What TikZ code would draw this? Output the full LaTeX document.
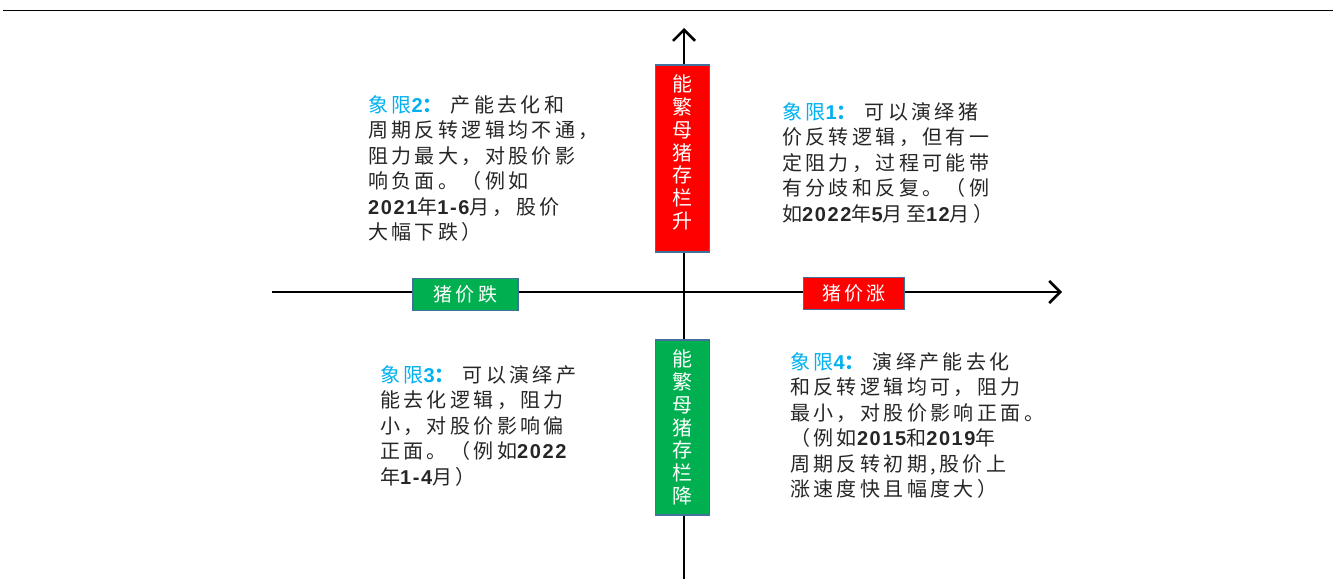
\documentclass[tikz,border=0pt]{standalone}
\usepackage{fontspec}
\setmainfont{Noto Sans CJK SC}
\newfontfamily\cjk[LetterSpace=17]{Noto Sans CJK SC}
\newfontfamily\latb[LetterSpace=8]{Liberation Sans}
\usetikzlibrary{arrows.meta}
\definecolor{qblue}{HTML}{00B0F0}
\definecolor{qred}{HTML}{FF0000}
\definecolor{qgreen}{HTML}{00B050}
\definecolor{qedge}{HTML}{41719C}
\definecolor{qtxt}{HTML}{262626}
\newcommand\dg[1]{{\latb\bfseries #1}}
\newcommand\ql[1]{\textcolor{qblue}{象限\dg{#1}{\bfseries ：}}\hspace{8pt}}
\tikzset{
  axis/.style={line width=2.6pt, -{Straight Barb[length=11pt,width=22pt]}},
  qtext/.style={anchor=north west, inner sep=0pt, align=left, text=qtxt,
    font={\cjk\fontsize{20}{25.5}\selectfont}},
  vbox/.style={draw=qedge, line width=1.3pt, minimum width=54pt, inner sep=0pt},
  hbox/.style={draw=qedge, line width=1.3pt, minimum height=32pt, inner sep=0pt},
  vtext/.style={text=white, inner sep=0pt, align=center,
    font={\fontsize{20}{22.8}\selectfont}},
  htext/.style={text=white, font={\cjk\fontsize{19}{22}\selectfont}}
}
\begin{document}
\begin{tikzpicture}[x=1pt,y=-1pt]
\useasboundingbox (0,0) rectangle (1336,587);
% top rule
\coordinate (tl) at (3,10.5);
\coordinate (tr) at (1333,10.5);
\draw[line width=1.6pt] (tl) -- (tr);
% axes
\coordinate (vb) at (684,579);
\coordinate (vt) at (684,28);
\coordinate (hl) at (272,292);
\coordinate (hr) at (1062,292);
\draw[axis] (vb) -- (vt);
\draw[axis] (hl) -- (hr);
% vertical boxes
\node[vbox, fill=qred, minimum height=187pt] (redv) at (682.5,158.5) {};
\node[vtext] (redvt) at ([yshift=6pt]redv.center) {能\\繁\\母\\猪\\存\\栏\\升};
\node[vbox, fill=qgreen, minimum height=175pt] (greenv) at (682.5,427.5) {};
\node[vtext] (greenvt) at (greenv.center) {能\\繁\\母\\猪\\存\\栏\\降};
% horizontal boxes
\node[hbox, fill=qgreen, minimum width=105pt] (fall) at (465.5,294.5) {};
\node[htext] (fallt) at (fall.center) {猪价跌};
\node[hbox, fill=qred, minimum width=101pt] (rise) at (854,293.5) {};
\node[htext] (riset) at (rise.center) {猪价涨};
% quadrant texts
\node[qtext] (q2) at (368,95) {\ql{2}产能去化和\\周期反转逻辑均不通，\\阻力最大，对股价影\\响负面。（例如\\\dg{2021}年\dg{1-6}月，股价\\大幅下跌）};
\node[qtext] (q1) at (782,102) {\ql{1}可以演绎猪\\价反转逻辑，但有一\\定阻力，过程可能带\\有分歧和反复。（例\\如\dg{2022}年\dg{5}月至\dg{12}月）};
\node[qtext] (q3) at (380,365) {\ql{3}可以演绎产\\能去化逻辑，阻力\\小，对股价影响偏\\正面。（例如\dg{2022}\\年\dg{1-4}月）};
\node[qtext] (q4) at (790,352) {\ql{4}演绎产能去化\\和反转逻辑均可，阻力\\最小，对股价影响正面。\\（例如\dg{2015}和\dg{2019}年\\周期反转初期,股价上\\涨速度快且幅度大）};
\end{tikzpicture}
\end{document}
